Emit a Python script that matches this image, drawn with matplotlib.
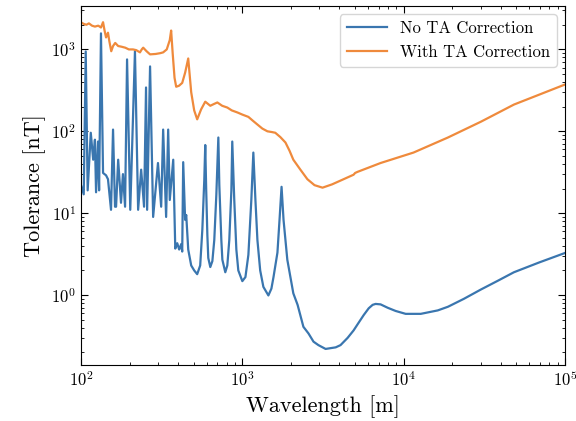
import matplotlib
matplotlib.use("Agg")
import matplotlib.pyplot as plt

# ==========================================
# Data (wavelength [m], tolerance [nT])
# ==========================================
no_ta_wavelength = [
    100, 104, 107, 110, 115, 119, 122, 124, 127.5, 129.5,
    133, 137, 143, 147, 153.5, 158, 162.5, 165, 170, 177,
    182, 187.6, 193, 202, 206, 216, 226, 236, 246, 253,
    257, 268, 280, 300, 314, 323, 337, 347, 355, 373,
    384, 395, 406, 418, 424, 430, 442, 449, 462, 482,
    503, 525, 548, 565, 581, 589, 597, 607, 615, 633,
    652, 670, 690, 710, 720, 741, 752, 784, 807, 830,
    855, 866, 891, 918, 944, 1000, 1045, 1090, 1137, 1170,
    1205, 1240, 1290, 1350, 1450, 1514, 1560, 1650, 1700, 1750,
    1800, 1900, 2070, 2200, 2390, 2570, 2760, 2960, 3280, 3790,
    4060, 4490, 4890, 5180, 5650, 6070, 6420, 6700, 7190, 7960,
    8910, 10280, 12760, 16260, 18800, 23600, 30100, 38400, 48200, 69000,
    100000,
]
no_ta_tolerance = [
    22, 17, 945, 19, 96, 45, 79, 18, 75, 19,
    1570, 31, 29, 26, 11, 105, 12, 12, 45, 13.4,
    30, 12, 755, 11, 40, 950, 11, 34, 12, 343,
    11, 620, 9, 41, 12, 105, 9, 105, 14.5, 45,
    3.7, 4.3, 3.6, 4.2, 3.4, 42, 8.3, 9.5, 3.6, 2.3,
    2.0, 1.8, 2.3, 6.3, 25.6, 68, 19.3, 5.4, 2.84, 2.2,
    2.6, 4.7, 16.8, 84, 22, 4.7, 2.7, 1.9, 2.3, 4.7,
    19, 75, 14.6, 3.6, 2.0, 1.48, 1.66, 3.1, 14.6, 55,
    14.6, 4.7, 2.0, 1.26, 0.99, 1.2, 1.66, 3.3, 8.3, 21,
    8.3, 2.7, 1.05, 0.76, 0.41, 0.34, 0.27, 0.245, 0.22, 0.23,
    0.245, 0.30, 0.37, 0.44, 0.57, 0.69, 0.76, 0.78, 0.77, 0.70,
    0.64, 0.59, 0.59, 0.65, 0.72, 0.90, 1.17, 1.5, 1.9, 2.5,
    3.27,
]

with_ta_wavelength = [
    100, 104, 108, 112, 117, 122, 128, 133, 137, 140,
    143, 147, 150, 154, 158, 163, 170, 178, 188, 198,
    210, 220, 232, 238, 243, 255, 268, 290, 310, 323,
    340, 355, 362, 370, 380, 389, 405, 424, 442, 462,
    482, 503, 525, 555, 589, 633, 665, 700, 750, 807,
    860, 931, 1000, 1090, 1160, 1240, 1330, 1430, 1520, 1600,
    1720, 1850, 1960, 2070, 2290, 2530, 2800, 3140, 3600, 4240,
    4890, 5000, 5180, 7190, 11500, 18800, 30100, 48200, 100000,
]
with_ta_tolerance = [
    2140, 2050, 2000, 2080, 1950, 1900, 1950, 1850, 2150, 1700,
    1400, 1600, 1250, 950, 1100, 1200, 1100, 1080, 1050, 1000,
    1000, 980, 920, 1000, 1050, 950, 870, 880, 900, 920,
    1000, 1300, 1700, 900, 450, 350, 360, 390, 520, 775,
    300, 180, 140, 185, 230, 205, 215, 225, 205, 195,
    180, 170, 160, 150, 135, 121, 108, 100, 98, 96,
    85, 73, 58, 45, 34, 26, 22, 20.5, 22.5, 26,
    29.5, 31, 32, 41, 55, 84, 131, 212, 373,
]

# ==========================================
# Style (LaTeX-like serif look)
# ==========================================
plt.rcParams["font.family"] = "serif"
plt.rcParams["font.serif"] = ["cmr10", "DejaVu Serif"]
plt.rcParams["mathtext.fontset"] = "cm"
plt.rcParams["axes.formatter.use_mathtext"] = True
plt.rcParams["axes.unicode_minus"] = False

fig = plt.figure(figsize=(5.76, 4.21), dpi=100)
ax = fig.add_axes([0.1406, 0.133, 0.8404, 0.853])

ax.plot(no_ta_wavelength, no_ta_tolerance, color="#3a76af", lw=1.6, label="No TA Correction")
ax.plot(with_ta_wavelength, with_ta_tolerance, color="#ef8a3c", lw=1.6, label="With TA Correction")

ax.set_xscale("log")
ax.set_yscale("log")
ax.set_xlim(1e2, 1e5)
ax.set_ylim(0.14, 3400)

ax.set_xlabel("Wavelength [m]", fontsize=16)
ax.set_ylabel("Tolerance [nT]", fontsize=16)

ax.tick_params(which="both", direction="in", top=True, right=True, labelsize=12)
ax.tick_params(which="major", length=5)
ax.tick_params(which="minor", length=2.5)

ax.legend(loc="upper right", fontsize=12, frameon=True, handlelength=2.4)

plt.savefig("out.png", dpi=100)
